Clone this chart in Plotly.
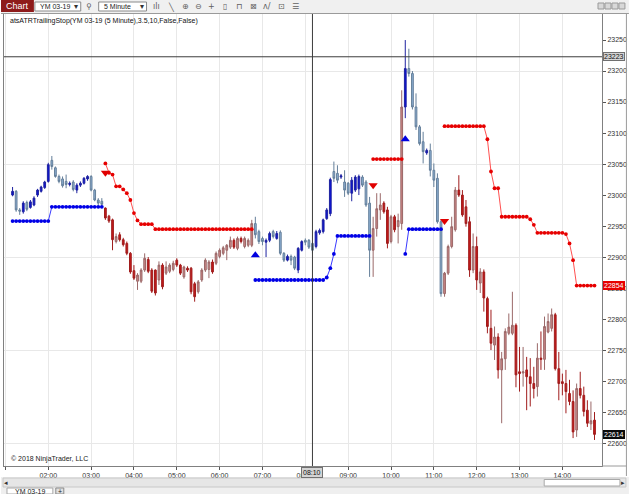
import plotly.graph_objects as go
import pandas as pd

# ---------------- data ----------------
symbol = "YM 03-19"
interval = "5 Minute"
indicator_label = "atsATRTrailingStop(YM 03-19 (5 Minute),3.5,10,False,False)"
copyright_text = "© 2018 NinjaTrader, LLC"
session_date = "2018-12-20"
first_bar_time = "01:10"

open_ = [23000, 23006, 22976, 22973, 22988, 22980, 22984, 23000, 23006, 23012,
         23022, 23056, 23044, 23030, 23026, 23022, 23017, 23021, 23008, 23016,
         23019, 23026, 23030, 23008, 22992, 22990, 22979, 22966, 22960, 22925,
         22936, 22928, 22922, 22906, 22878, 22861, 22861, 22879, 22896, 22879,
         22879, 22863, 22887, 22874, 22877, 22880, 22895, 22887, 22868, 22882,
         22882, 22857, 22844, 22863, 22879, 22880, 22892, 22890, 22901, 22906,
         22911, 22916, 22927, 22914, 22930, 22917, 22919, 22919, 22954, 22941,
         22930, 22924, 22927, 22941, 22930, 22940, 22906, 22895, 22901, 22900,
         22879, 22911, 22927, 22927, 22922, 22917, 22939, 22941, 22962, 22970,
         23038, 23035, 23029, 23021, 23019, 23003, 23008, 23010, 23029, 23021,
         22987, 22911, 22946, 22976, 22987, 22976, 22925, 22965, 22949, 22954,
         23142, 23204, 23196, 23142, 23110, 23086, 23068, 23072, 23040, 23027,
         22957, 22841, 22874, 22917, 22944, 23008, 23000, 22981, 22957, 22879,
         22917, 22858, 22876, 22833, 22785, 22758, 22771, 22718, 22736, 22777,
         22777, 22790, 22715, 22713, 22718, 22707, 22696, 22691, 22737, 22735,
         22779, 22785, 22807, 22720, 22699, 22696, 22680, 22667, 22621, 22688,
         22677, 22653, 22631, 22637]
high = [23013, 23008, 22979, 22990, 22991, 22992, 22998, 23010, 23015, 23023,
        23052, 23063, 23046, 23033, 23030, 23033, 23022, 23024, 23019, 23022,
        23029, 23032, 23032, 23010, 22995, 22995, 22980, 22968, 22962, 22938,
        22940, 22931, 22925, 22908, 22887, 22874, 22882, 22906, 22900, 22882,
        22880, 22893, 22890, 22893, 22890, 22894, 22898, 22889, 22886, 22885,
        22884, 22860, 22863, 22882, 22898, 22895, 22896, 22909, 22914, 22918,
        22921, 22933, 22930, 22933, 22933, 22933, 22930, 22960, 22965, 22944,
        22933, 22930, 22941, 22944, 22942, 22943, 22908, 22904, 22904, 22902,
        22916, 22927, 22930, 22929, 22924, 22944, 22946, 22962, 22979, 23028,
        23054, 23048, 23034, 23040, 23021, 23029, 23032, 23033, 23032, 23024,
        22997, 22965, 23003, 23003, 22990, 22981, 22968, 22968, 22970, 23169,
        23250, 23236, 23200, 23164, 23113, 23102, 23075, 23083, 23051, 23035,
        22960, 22876, 22920, 22965, 23013, 23032, 23008, 22992, 22965, 22938,
        22933, 22882, 22880, 22836, 22815, 22788, 22777, 22747, 22785, 22809,
        22844, 22793, 22755, 22755, 22739, 22737, 22723, 22761, 22780, 22804,
        22809, 22817, 22810, 22747, 22712, 22718, 22702, 22685, 22696, 22715,
        22691, 22669, 22667, 22650]
low = [22998, 22973, 22968, 22970, 22974, 22978, 22982, 22997, 23004, 23010,
       23020, 23041, 23028, 23019, 23012, 23011, 23014, 23006, 23003, 23013,
       23017, 23023, 23006, 22990, 22984, 22981, 22960, 22955, 22911, 22922,
       22925, 22917, 22903, 22873, 22863, 22847, 22858, 22876, 22874, 22842,
       22838, 22855, 22848, 22871, 22874, 22877, 22884, 22871, 22865, 22876,
       22840, 22828, 22841, 22860, 22876, 22866, 22873, 22887, 22898, 22903,
       22895, 22913, 22913, 22911, 22922, 22914, 22916, 22916, 22930, 22921,
       22919, 22900, 22924, 22930, 22928, 22903, 22892, 22893, 22887, 22879,
       22874, 22909, 22919, 22913, 22906, 22914, 22936, 22938, 22960, 22966,
       23021, 23019, 23026, 22997, 23000, 22990, 23005, 23000, 23013, 22981,
       22868, 22868, 22933, 22960, 22970, 22914, 22922, 22940, 22922, 22944,
       23124, 23191, 23138, 23105, 23080, 23051, 23065, 23030, 23013, 22954,
       22836, 22836, 22871, 22914, 22941, 22997, 22965, 22949, 22868, 22874,
       22847, 22842, 22812, 22777, 22750, 22734, 22704, 22632, 22718, 22774,
       22774, 22690, 22683, 22691, 22653, 22659, 22672, 22675, 22718, 22718,
       22777, 22780, 22717, 22669, 22677, 22648, 22661, 22608, 22610, 22672,
       22643, 22626, 22621, 22605]
close = [23006, 22976, 22974, 22987, 22977, 22989, 22995, 23008, 23013, 23021,
         23049, 23046, 23030, 23022, 23015, 23017, 23019, 23009, 23016, 23019,
         23027, 23030, 23008, 22992, 22987, 22985, 22963, 22958, 22928, 22933,
         22928, 22920, 22906, 22876, 22866, 22871, 22879, 22898, 22877, 22845,
         22842, 22887, 22852, 22884, 22887, 22890, 22887, 22874, 22884, 22879,
         22844, 22836, 22860, 22879, 22895, 22892, 22876, 22906, 22911, 22915,
         22919, 22927, 22916, 22930, 22925, 22930, 22927, 22954, 22936, 22925,
         22925, 22927, 22938, 22933, 22938, 22906, 22895, 22901, 22895, 22882,
         22914, 22925, 22924, 22916, 22911, 22941, 22943, 22960, 22976, 23025,
         23027, 23024, 23031, 23008, 23003, 23024, 23029, 23030, 23016, 22984,
         22911, 22946, 22978, 22984, 22973, 22922, 22965, 22944, 22959, 23142,
         23204, 23196, 23142, 23110, 23083, 23070, 23072, 23040, 23024, 22957,
         22841, 22874, 22917, 22949, 23008, 23000, 22968, 22954, 22879, 22917,
         22863, 22876, 22834, 22788, 22761, 22771, 22718, 22736, 22780, 22787,
         22790, 22710, 22712, 22715, 22707, 22696, 22688, 22737, 22735, 22788,
         22796, 22807, 22720, 22696, 22696, 22683, 22667, 22618, 22688, 22677,
         22651, 22632, 22636, 22614]

N = None
# trailing stop while long (blue) / short (red); None where the other side is active
long_stop = [22958, 22958, 22958, 22958, 22958, 22958, 22958, 22958, 22958, 22958,
             22958, 22981, 22981, 22981, 22981, 22981, 22981, 22981, 22981, 22981,
             22981, 22981, 22981, 22981, 22981, 22981, N, N, N, N,
             N, N, N, N, N, N, N, N, N, N,
             N, N, N, N, N, N, N, N, N, N,
             N, N, N, N, N, N, N, N, N, N,
             N, N, N, N, N, N, N, N, 22863, 22863,
             22863, 22863, 22863, 22863, 22863, 22863, 22863, 22863, 22863, 22863,
             22863, 22863, 22863, 22863, 22863, 22863, 22863, 22863, 22867, 22882,
             22905, 22934, 22934, 22934, 22934, 22934, 22934, 22934, 22934, 22934,
             22934, N, N, N, N, N, N, N, N, N,
             22905, 22945, 22945, 22945, 22945, 22945, 22945, 22945, 22945, 22945,
             22945, N, N, N, N, N, N, N, N, N,
             N, N, N, N, N, N, N, N, N, N,
             N, N, N, N, N, N, N, N, N, N,
             N, N, N, N, N, N, N, N, N, N,
             N, N, N, N]
short_stop = [N, N, N, N, N, N, N, N, N, N,
              N, N, N, N, N, N, N, N, N, N,
              N, N, N, N, N, N, 23051, 23036, 23033, 23014,
              23014, 23009, 23003, 22992, 22971, 22959, 22953, 22953, 22953, 22953,
              22945, 22945, 22945, 22945, 22945, 22945, 22945, 22945, 22945, 22945,
              22945, 22945, 22945, 22945, 22945, 22945, 22945, 22945, 22945, 22945,
              22945, 22945, 22945, 22945, 22945, 22945, 22945, 22945, N, N,
              N, N, N, N, N, N, N, N, N, N,
              N, N, N, N, N, N, N, N, N, N,
              N, N, N, N, N, N, N, N, N, N,
              N, 23058, 23058, 23058, 23058, 23058, 23058, 23058, 23058, 23058,
              N, N, N, N, N, N, N, N, N, N,
              N, 23111, 23111, 23111, 23111, 23111, 23111, 23111, 23111, 23111,
              23111, 23111, 23111, 23090, 23038, 23011, 23011, 22965, 22965, 22965,
              22965, 22965, 22965, 22965, 22965, 22961, 22952, 22939, 22939, 22939,
              22939, 22939, 22939, 22939, 22939, 22937, 22922, 22895, 22854, 22854,
              22854, 22854, 22854, 22854]

long_signal_bars = [68, 110]
long_signal_prices = [22903, 23090]
short_signal_bars = [26, 101, 121]
short_signal_prices = [23036, 23016, 22958]

crosshair_bar = 84
crosshair_price = 23223
stop_label_price = 22854
last_price = 22614

# ---------------- figure ----------------
times = pd.date_range(f"{session_date} {first_bar_time}", periods=len(close), freq="5min")
bar = pd.Timedelta(minutes=5)

FONT = "Liberation Sans, Arial, sans-serif"
W, H = 630, 494
ML, MR, MT, MB = 3, 27, 14, 28
PW, PH = W - ML - MR, H - MT - MB


def px(x):
    return (x - ML) / PW


def py(y):
    return (H - MB - y) / PH


fig = go.Figure()

up_idx = [i for i in range(len(close)) if long_stop[i] is not None]
dn_idx = [i for i in range(len(close)) if long_stop[i] is None]


def pick(arr, idx):
    return [arr[i] for i in idx]


fig.add_trace(go.Candlestick(
    x=pick(times, up_idx), open=pick(open_, up_idx), high=pick(high, up_idx),
    low=pick(low, up_idx), close=pick(close, up_idx),
    increasing=dict(fillcolor="#0A10D8", line=dict(color="#1E22A0", width=1)),
    decreasing=dict(fillcolor="#8CAED2", line=dict(color="#647F9A", width=1)),
    whiskerwidth=0, showlegend=False, hoverinfo="skip"))
fig.add_trace(go.Candlestick(
    x=pick(times, dn_idx), open=pick(open_, dn_idx), high=pick(high, dn_idx),
    low=pick(low, dn_idx), close=pick(close, dn_idx),
    increasing=dict(fillcolor="#CC8585", line=dict(color="#9A6868", width=1)),
    decreasing=dict(fillcolor="#C41A1A", line=dict(color="#A01C1C", width=1)),
    whiskerwidth=0, showlegend=False, hoverinfo="skip"))

fig.add_trace(go.Scatter(
    x=times, y=long_stop, mode="lines+markers", connectgaps=False,
    line=dict(color="#3A3AFF", width=1), marker=dict(color="#0000E6", size=3.8),
    showlegend=False, hoverinfo="skip"))
fig.add_trace(go.Scatter(
    x=times, y=short_stop, mode="lines+markers", connectgaps=False,
    line=dict(color="#FF5050", width=1), marker=dict(color="#E60000", size=3.8),
    showlegend=False, hoverinfo="skip"))

fig.add_trace(go.Scatter(
    x=[times[i] for i in long_signal_bars], y=long_signal_prices, mode="markers",
    marker=dict(symbol="triangle-up", color="#0000E0", size=8),
    showlegend=False, hoverinfo="skip"))
fig.add_trace(go.Scatter(
    x=[times[i] for i in short_signal_bars], y=short_signal_prices, mode="markers",
    marker=dict(symbol="triangle-down", color="#E00000", size=8),
    showlegend=False, hoverinfo="skip"))

# invisible helper trace for the coarse horizontal grid axis
fig.add_trace(go.Scatter(x=times, y=close, yaxis="y2", mode="lines",
                         line=dict(width=0, color="rgba(0,0,0,0)"),
                         showlegend=False, hoverinfo="skip"))

y_lo, y_hi = 22563, 23292
x_lo = times[0] - bar * 2.4
x_hi = times[0] + bar * 165.1

fig.update_layout(
    width=W, height=H,
    margin=dict(l=ML, r=MR, t=MT, b=MB, pad=0),
    paper_bgcolor="white", plot_bgcolor="white",
    font=dict(family=FONT, size=7, color="#222"),
    showlegend=False,
    xaxis=dict(
        type="date", range=[x_lo, x_hi], rangeslider=dict(visible=False),
        tickformat="%H:%M", dtick=3600000, tick0=f"{session_date} 00:00",
        ticks="outside", ticklen=3, tickcolor="#555", tickfont=dict(size=7, color="#333"),
        showgrid=True, gridcolor="#E8E8E8", gridwidth=1,
        showline=True, linecolor="#808080", linewidth=1, mirror=True, zeroline=False),
    yaxis=dict(
        side="right", range=[y_lo, y_hi], dtick=50, tick0=22600, tickformat="d",
        ticks="outside", ticklen=3, tickcolor="#555", tickfont=dict(size=7, color="#333"),
        showgrid=False, showline=True, linecolor="#808080", linewidth=1, mirror=True,
        zeroline=False),
    yaxis2=dict(
        overlaying="y", side="left", range=[y_lo, y_hi], dtick=150, tick0=22600,
        showgrid=True, gridcolor="#E8E8E8", showticklabels=False, ticks="",
        showline=False, zeroline=False),
)

shapes = []
annos = []


def note(x, y, text, size=7, color="#222", xanchor="center", family=FONT, **kw):
    annos.append(dict(xref="paper", yref="paper", x=px(x), y=py(y), text=text, showarrow=False,
                      xanchor=xanchor, yanchor="middle", font=dict(size=size, color=color, family=family), **kw))


def box(x0, y0, x1, y1, fill, line_color=None, layer="above"):
    shapes.append(dict(type="rect", xref="paper", yref="paper", x0=px(x0), x1=px(x1), y0=py(y1), y1=py(y0),
                       fillcolor=fill, layer=layer,
                       line=dict(color=line_color or fill, width=1 if line_color else 0)))


# crosshair
shapes.append(dict(type="line", xref="x", yref="paper", x0=times[crosshair_bar], x1=times[crosshair_bar],
                   y0=0, y1=1, line=dict(color="#3C3C3C", width=1)))
shapes.append(dict(type="line", xref="paper", yref="y", x0=0, x1=1, y0=crosshair_price, y1=crosshair_price,
                   line=dict(color="#3C3C3C", width=1)))

# toolbar
box(0, 0, 630, 13.5, "#F0F0F0", layer="below")
shapes.append(dict(type="line", xref="paper", yref="paper", x0=px(0), x1=px(630), y0=py(13.5), y1=py(13.5),
                   line=dict(color="#9A9A9A", width=1)))
box(0, 0, 33, 12, "#8E1B1B")
note(16.5, 6, "Chart", size=9, color="white")
for x0, x1, label in [(34, 80, symbol), (98, 146, interval)]:
    box(x0, 2, x1, 11, "white", "#8A8A8A")
    note(x0 + 3, 6.5, label, xanchor="left")
    note(x1 - 5, 6.5, "▾", size=8, color="#333")
icons = [(88, "⚲"), (156, "ılı"), (171, "╲"), (185, "⊕"), (198, "⊖"), (211, "+"), (225, "▯"),
         (239, "⊓"), (253, "⊠"), (267, "ʌ/"), (281, "⊡"), (295, "☰")]
for x, g in icons:
    note(x, 6.5, g, size=8, color="#606060", family="DejaVu Sans")
for x0 in [599, 606, 613, 620]:
    box(x0, 3, x0 + 6, 9, "#D8D8D8", "#9A9A9A")

# right panel frame
shapes.append(dict(type="line", xref="paper", yref="paper", x0=px(627.5), x1=px(627.5), y0=py(476), y1=py(13.5),
                   line=dict(color="#9A9A9A", width=1)))
shapes.append(dict(type="line", xref="paper", yref="paper", x0=px(603), x1=px(627.5), y0=py(466), y1=py(466),
                   line=dict(color="#9A9A9A", width=1)))

# bottom scrollbar and tabs
box(0, 477, 630, 494, "#EFEFEF", layer="below")
box(2, 478, 627, 487, "#E6E6E6", "#C8C8C8")
box(545, 479.5, 621, 486, "white", "#A8A8A8")
note(5, 482.5, "◂", color="#333")
note(624, 482.5, "▸", color="#333")
box(6, 488, 52, 494, "white", "#A8A8A8")
note(29, 491.5, symbol)
box(55, 488, 63, 494, "#E0E0E0", "#8A8A8A")
note(59, 491.5, "+")

# indicator label and copyright
note(7, 21, indicator_label, color="#111", xanchor="left")
note(8, 459, copyright_text, xanchor="left")

# price markers on the right axis
for price, bg, fg, border in [(stop_label_price, "#E60000", "white", "#E60000"),
                              (last_price, "#0A0A0A", "white", "#0A0A0A"),
                              (crosshair_price, "#D4D4D4", "#111", "#707070")]:
    annos.append(dict(xref="paper", yref="y", x=1, y=price, text=f"{price}", showarrow=False,
                      xanchor="left", yanchor="middle", xshift=1, bgcolor=bg, bordercolor=border,
                      borderwidth=1, borderpad=0, font=dict(size=7, color=fg)))
# crosshair time marker
annos.append(dict(xref="x", yref="paper", x=times[crosshair_bar], y=0, yshift=-1, xanchor="center",
                  text=times[crosshair_bar].strftime("%H:%M"), showarrow=False, yanchor="top",
                  bgcolor="#D4D4D4", bordercolor="#707070", borderwidth=1, borderpad=1,
                  font=dict(size=7, color="#111")))

fig.update_layout(shapes=shapes, annotations=annos)
fig.write_html("out.html", config={"displayModeBar": False},
               post_script="document.body.style.margin='0';document.body.style.padding='0';"
                           "document.body.style.overflow='hidden';")
